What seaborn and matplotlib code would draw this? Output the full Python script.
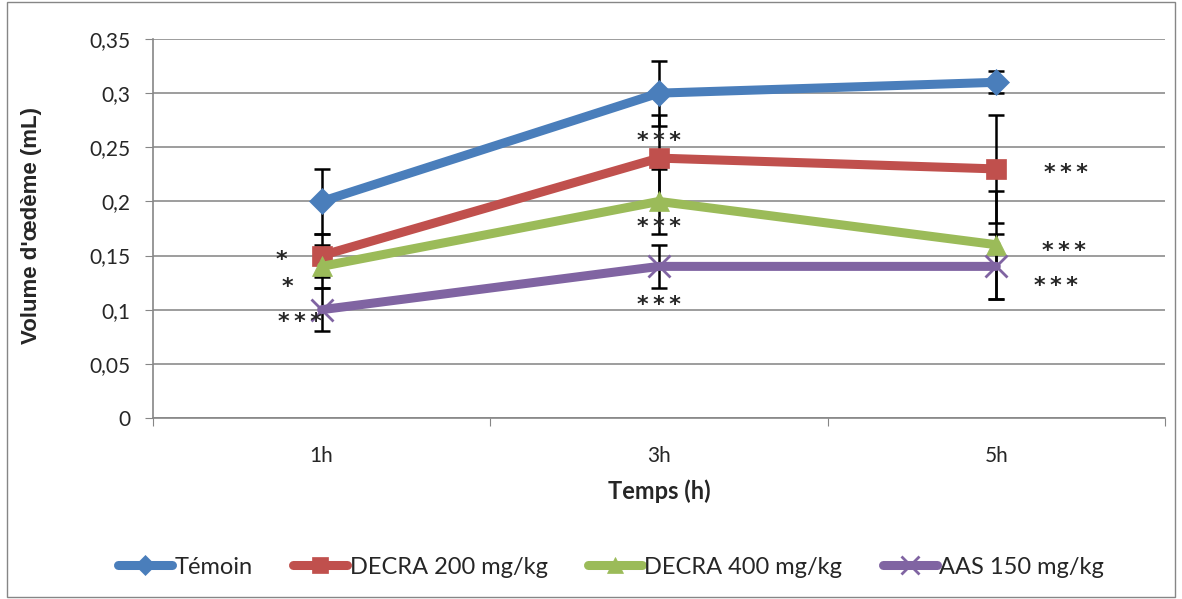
import numpy as np
import pandas as pd
import matplotlib
matplotlib.use("Agg")
import matplotlib.pyplot as plt
import seaborn as sns
from matplotlib.ticker import FixedLocator, FuncFormatter, NullFormatter
from matplotlib.patches import Rectangle

# data
times = ['1h', '3h', '5h']
groups = ['Témoin', 'DECRA 200 mg/kg', 'DECRA 400 mg/kg', 'AAS 150 mg/kg']
temoin = [0.20, 0.30, 0.31]
decra200 = [0.15, 0.24, 0.23]
decra400 = [0.14, 0.20, 0.16]
aas150 = [0.10, 0.14, 0.14]
err_temoin = [0.03, 0.03, 0.01]
err_decra200 = [0.02, 0.04, 0.05]
err_decra400 = [0.02, 0.03, 0.05]
err_aas150 = [0.02, 0.02, 0.03]
# significance marks (group, time, text)
three = '*\u2009*\u2009*'
stars = [
    ('DECRA 200 mg/kg', '1h', '*'), ('DECRA 400 mg/kg', '1h', '*'), ('AAS 150 mg/kg', '1h', three),
    ('DECRA 200 mg/kg', '3h', three), ('DECRA 400 mg/kg', '3h', three), ('AAS 150 mg/kg', '3h', three),
    ('DECRA 200 mg/kg', '5h', three), ('DECRA 400 mg/kg', '5h', three), ('AAS 150 mg/kg', '5h', three),
]

colors = ['#4A7EBB', '#C0504D', '#9BBB59', '#8064A2']
markers = ['D', 's', '^', 'x']
msizes = [13, 15, 15, 16]

values = [temoin, decra200, decra400, aas150]
errors = [err_temoin, err_decra200, err_decra400, err_aas150]
df = pd.DataFrame({
    'Temps': times * len(groups),
    'Volume': np.concatenate(values),
    'err': np.concatenate(errors),
    'Groupe': np.repeat(groups, len(times)),
})
df['pos'] = df['Temps'].map({t: i for i, t in enumerate(times)})

sns.set_style('white')
plt.rcParams['font.family'] = ['Lato', 'DejaVu Sans']

fig = plt.figure(figsize=(11.82, 5.99), dpi=100)
ax = fig.add_axes([0.1294, 0.3022, 0.8562, 0.6327])

# error bars (drawn below the lines)
for g, c in zip(groups, colors):
    d = df[df['Groupe'] == g]
    ax.errorbar(d['pos'], d['Volume'], yerr=d['err'], fmt='none', ecolor='black',
                elinewidth=1.8, capsize=6, capthick=1.8, zorder=2)

for g, c, m, ms in zip(groups, colors, markers, msizes):
    d = df[df['Groupe'] == g]
    sns.lineplot(data=d, x='pos', y='Volume', ax=ax, color=c, linewidth=6.5,
                 marker=m, markersize=ms, markeredgecolor=c,
                 markeredgewidth=2 if m == 'x' else 0.5, label=g, zorder=3,
                 solid_capstyle='round')

# significance stars
offsets = {
    ('DECRA 200 mg/kg', '1h'): (-0.118, -0.0045), ('DECRA 400 mg/kg', '1h'): (-0.10, -0.019),
    ('AAS 150 mg/kg', '1h'): (-0.065, -0.011),
    ('DECRA 200 mg/kg', '3h'): (0.0, 0.016), ('DECRA 400 mg/kg', '3h'): (0.0, -0.024),
    ('AAS 150 mg/kg', '3h'): (0.0, -0.036),
    ('DECRA 200 mg/kg', '5h'): (0.207, -0.004), ('DECRA 400 mg/kg', '5h'): (0.20, -0.006),
    ('AAS 150 mg/kg', '5h'): (0.178, -0.018),
}
for g, t, s in stars:
    val = df[(df['Groupe'] == g) & (df['Temps'] == t)]['Volume'].iloc[0]
    dx, dy = offsets[(g, t)]
    ax.text(times.index(t) + dx, val + dy, s, ha='center', va='center',
            fontsize=16, fontweight='bold', family='DejaVu Sans', zorder=5)

ax.set_xlim(-0.5, 2.5)
ax.set_ylim(0, 0.35)
ax.yaxis.set_major_locator(FixedLocator(np.arange(0, 0.351, 0.05)))
ax.yaxis.set_major_formatter(FuncFormatter(lambda v, p: f'{round(v, 2):g}'.replace('.', ',')))
ax.xaxis.set_major_locator(FixedLocator([-0.5, 0.5, 1.5, 2.5]))
ax.xaxis.set_major_formatter(NullFormatter())
ax.xaxis.set_minor_locator(FixedLocator(range(len(times))))
ax.xaxis.set_minor_formatter(FuncFormatter(lambda v, p: times[int(round(v))]))
ax.tick_params(axis='x', which='major', length=6, color='#868686', direction='out', bottom=True)
ax.tick_params(axis='x', which='minor', length=0, labelsize=15, pad=20)
ax.tick_params(axis='y', length=6, color='#868686', direction='out', left=True, labelsize=15, pad=10)

ax.grid(axis='y', color='#8C8C8C', linewidth=1.2)
ax.set_axisbelow(True)
for side in ['top', 'right']:
    ax.spines[side].set_visible(False)
for side in ['left', 'bottom']:
    ax.spines[side].set_color('#868686')
    ax.spines[side].set_linewidth(1.2)

ax.set_xlabel('Temps (h)', fontsize=17, fontweight='bold', labelpad=10)
ax.set_ylabel("Volume d'œdème (mL)", fontsize=16, fontweight='bold',
              family=['Liberation Sans', 'DejaVu Sans'])
ax.yaxis.set_label_coords(-0.110, 0.507)

ax.get_legend().remove()
handles, labels = ax.get_legend_handles_labels()
fig.legend(handles, labels, loc='center', bbox_to_anchor=(0.517, 0.053), ncol=4,
           frameon=False, fontsize=17, handlelength=2.3, handletextpad=0.1,
           columnspacing=1.7, markerscale=0.8)

fig.patches.append(Rectangle((0.006, 0.004), 0.988, 0.992, transform=fig.transFigure,
                             fill=False, edgecolor='#868686', linewidth=1))

fig.savefig('out.png', dpi=100)
